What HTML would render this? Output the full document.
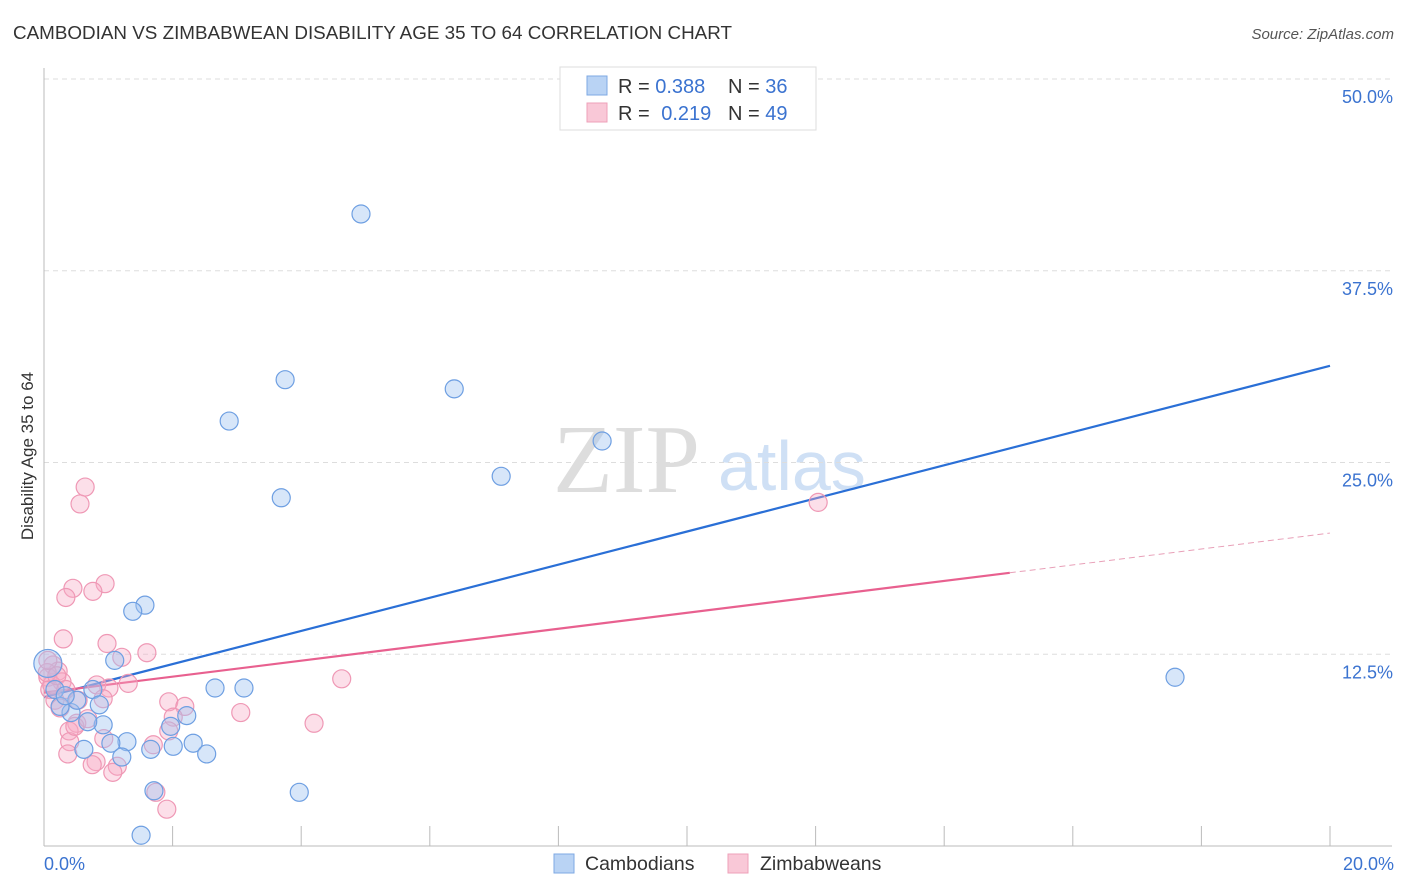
<!DOCTYPE html>
<html><head><meta charset="utf-8"><style>
body{margin:0;background:#fff;font-family:"Liberation Sans",sans-serif;}
svg{display:block}
</style></head><body>
<svg id="chart" width="1406" height="892" viewBox="0 0 1406 892">
<text x="13" y="39" font-size="18" fill="#333" textLength="719" lengthAdjust="spacingAndGlyphs">CAMBODIAN VS ZIMBABWEAN DISABILITY AGE 35 TO 64 CORRELATION CHART</text>
<text x="1394" y="39" font-size="15" fill="#555" font-style="italic" text-anchor="end">Source: ZipAtlas.com</text>
<g>
<text x="553" y="492" font-size="98" font-family="Liberation Serif,serif" fill="#ddd">ZIP</text>
<text x="718" y="490" font-size="70" fill="#cfe0f5">atlas</text>
</g>
<g id="grid"></g>
<g id="axes"></g>
<g id="lines"></g>
<g id="pts"></g>
<text transform="translate(33,456) rotate(-90)" font-size="17" fill="#333" text-anchor="middle">Disability Age 35 to 64</text>
<g>
<rect x="560" y="67" width="256" height="63" fill="#fff" stroke="#ddd"/>
<rect x="587" y="76" width="20" height="19" fill="#b9d3f4" stroke="#7ea8e3"/>
<rect x="587" y="103" width="20" height="19" fill="#f9c8d7" stroke="#eea0b9"/>
<text x="618" y="93" font-size="20" fill="#333">R = <tspan fill="#3b73d0">0.388</tspan></text>
<text x="728" y="93" font-size="20" fill="#333">N = <tspan fill="#3b73d0">36</tspan></text>
<text x="618" y="120" font-size="20" fill="#333">R = <tspan fill="#3b73d0" dx="6">0.219</tspan></text>
<text x="728" y="120" font-size="20" fill="#333">N = <tspan fill="#3b73d0">49</tspan></text>
</g>
<g>
<rect x="554" y="854" width="20" height="19" fill="#b9d3f4" stroke="#7ea8e3"/>
<text x="585" y="870" font-size="19.5" fill="#333">Cambodians</text>
<rect x="728" y="854" width="20" height="19" fill="#f9c8d7" stroke="#eea0b9"/>
<text x="760" y="870" font-size="19.5" fill="#333">Zimbabweans</text>
</g>
</svg>
<script>
const yTicks=[12.5,25,37.5,50];
const yTickLabels=["12.5%","25.0%","37.5%","50.0%"];
const xTickLabels=["0.0%","20.0%"];
const cambX=[4.93,3.75,6.38,2.88,8.68,7.11,3.69,1.57,1.38,1.10,2.66,3.11,17.59,0.76,0.42,0.51,0.86,2.22,1.97,0.92,0.68,1.29,1.04,0.62,2.32,2.01,1.66,1.21,2.53,1.71,3.97,1.51,0.06,0.17,0.25,0.33];
const cambY=[41.2,30.4,29.8,27.7,26.4,24.1,22.7,15.7,15.3,12.1,10.3,10.3,11.0,10.2,8.7,9.5,9.2,8.5,7.8,7.9,8.1,6.8,6.7,6.3,6.7,6.5,6.3,5.8,6.0,3.6,3.5,0.7,11.9,10.2,9.1,9.8];
const zimX=[0.64,0.56,12.04,0.95,0.45,0.76,0.34,0.30,0.98,1.21,1.60,0.14,0.22,0.06,0.28,4.63,0.82,1.01,0.92,1.94,2.19,3.06,2.01,4.20,0.51,0.39,1.94,0.93,0.40,1.70,0.37,0.81,0.75,1.14,1.07,1.74,1.91,0.09,0.17,0.25,0.12,0.05,0.20,0.06,0.48,0.68,1.31,0.34,0.53];
const zimY=[23.4,22.3,22.4,17.1,16.8,16.6,16.2,13.5,13.2,12.3,12.6,11.8,11.4,11.0,10.7,10.9,10.5,10.3,9.6,9.4,9.1,8.7,8.4,8.0,8.0,7.5,7.5,7.0,6.8,6.6,6.0,5.5,5.3,5.2,4.8,3.5,2.4,10.2,9.5,9.0,10.5,11.3,11.1,12.1,7.8,8.3,10.6,10.2,9.5];
const cambTrend=[9.7,31.3];
const zimTrend=[10.0,20.4];
const zimSolidEnd=15.02;
const X=v=>44+v/20*1286, Y=v=>846-v*15.34;
const NS="http://www.w3.org/2000/svg";
function mk(tag,attrs,parent){const e=document.createElementNS(NS,tag);for(const k in attrs)e.setAttribute(k,attrs[k]);document.getElementById(parent).appendChild(e);return e;}
yTicks.forEach((t,i)=>{
 const g=mk('line',{x1:44,x2:1392,y1:Y(t),y2:Y(t),stroke:'#ddd','stroke-dasharray':'5,4'},'grid');
 
 
 const l=mk('text',{x:1393,y:Y(t)+24,'font-size':18,fill:'#3b73d0','text-anchor':'end'},'axes');
 l.textContent=yTickLabels[i];
 
 
});
const la=mk('line',{x1:44,x2:44,y1:68,y2:846,stroke:'#bbb'},'axes');


const ba=mk('line',{x1:44,x2:1392,y1:846,y2:846,stroke:'#bbb'},'axes');


for(let i=1;i<=20;i++){if(i%2)continue;
 const t=mk('line',{x1:X(i),x2:X(i),y1:826,y2:846,stroke:'#bbb'},'axes');
 
 }
[[0,'start',44],[20,'end',1394]].forEach((d,i)=>{
 const t=mk('text',{x:d[2],y:870,'font-size':18,fill:'#3b73d0','text-anchor':d[1]},'axes');
 t.textContent=xTickLabels[i];
 
 });
const bl=mk('line',{x1:X(0),y1:Y(cambTrend[0]),x2:X(20),y2:Y(cambTrend[1]),stroke:'#2a6fd6','stroke-width':2.2},'lines');


const zAt=x=>zimTrend[0]+(zimTrend[1]-zimTrend[0])*x/20;
const pl=mk('line',{x1:X(0),y1:Y(zAt(0)),x2:X(zimSolidEnd),y2:Y(zAt(zimSolidEnd)),stroke:'#e8608f','stroke-width':2.2},'lines');


const pd=mk('line',{x1:X(zimSolidEnd),y1:Y(zAt(zimSolidEnd)),x2:X(20),y2:Y(zAt(20)),stroke:'#e8a0b8','stroke-width':1,'stroke-dasharray':'6,4'},'lines');


zimX.forEach((x,i)=>{
 const c=mk('circle',{cx:X(x),cy:Y(zimY[i]),r:9,fill:'rgba(246,170,196,0.38)',stroke:'#ef98b5','stroke-width':1.2},'pts');
 
 });
cambX.forEach((x,i)=>{
 const c=mk('circle',{cx:X(x),cy:Y(cambY[i]),r:i==32?14:9,fill:'rgba(160,196,240,0.42)',stroke:'#6e9fe2','stroke-width':1.2},'pts');
 
 });
</script>
</body></html>
